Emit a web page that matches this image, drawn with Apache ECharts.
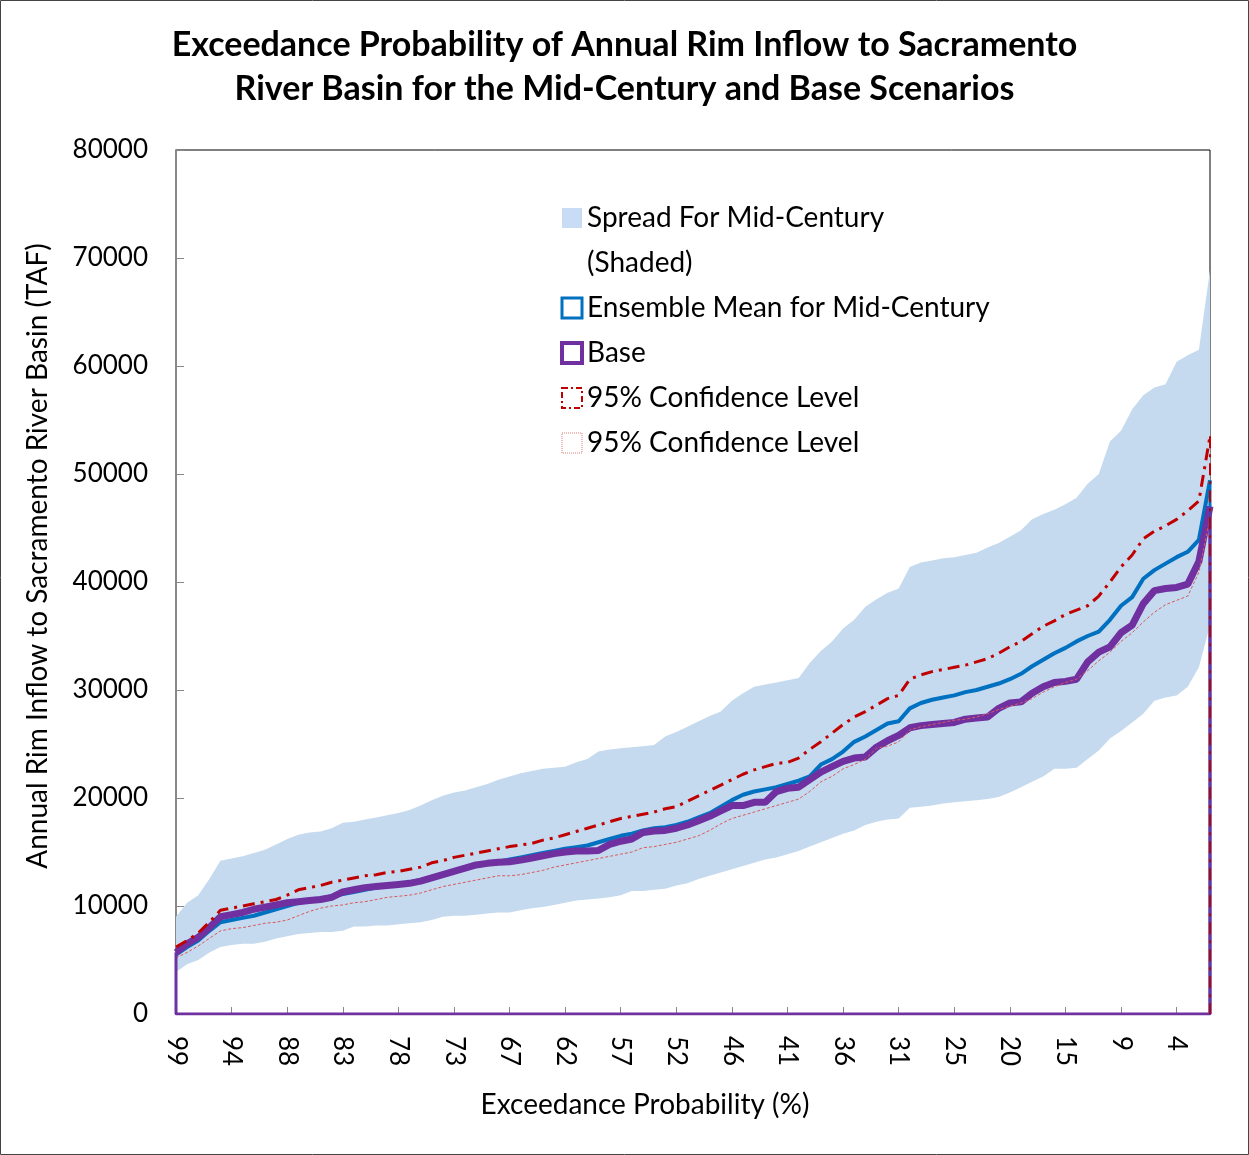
<!DOCTYPE html>
<html>
<head>
<meta charset="utf-8">
<script src="https://cdn.jsdelivr.net/npm/echarts/dist/echarts.min.js"></script>
<style>
  html, body { margin: 0; padding: 0; background: #fff; }
  #chart { width: 1249px; height: 1155px; }
</style>
</head>
<body>
<div id="chart"></div>
<script>
// exceedance probability (%) for each ranked year
const exceedance = [99, 98, 97, 96, 95, 94, 93, 92, 91, 89, 88, 87, 86, 85, 84, 83, 82, 81, 80, 79,
  78, 77, 76, 75, 74, 73, 72, 71, 69, 68, 67, 66, 65, 64, 63, 62, 61, 60, 59, 58,
  57, 56, 55, 54, 53, 52, 51, 49, 48, 47, 46, 45, 44, 43, 42, 41, 40, 39, 38, 37,
  36, 35, 34, 33, 32, 31, 29, 28, 27, 26, 25, 24, 23, 22, 21, 20, 19, 18, 17, 16,
  15, 14, 13, 12, 11, 9, 8, 7, 6, 5, 4, 3, 2, 1];

// spread of mid-century runs (TAF)
const spreadLow = [3900, 4600, 5000, 5700, 6200, 6400, 6500, 6500, 6700, 7000, 7200, 7400, 7500, 7600, 7600, 7700, 8100, 8100, 8200, 8200,
  8300, 8400, 8500, 8700, 9000, 9100, 9100, 9200, 9300, 9400, 9400, 9600, 9800, 9900, 10100, 10300, 10500, 10600, 10700, 10800,
  11000, 11400, 11400, 11500, 11600, 11900, 12100, 12500, 12800, 13100, 13400, 13700, 14000, 14300, 14500, 14800, 15100, 15500, 15900, 16300,
  16700, 17000, 17500, 17800, 18000, 18100, 19100, 19200, 19300, 19500, 19600, 19700, 19800, 19900, 20100, 20500, 21000, 21500, 22000, 22700,
  22700, 22800, 23600, 24400, 25500, 26200, 27000, 27800, 29000, 29300, 29500, 30300, 32100, 36000];
const spreadHigh = [9000, 10300, 11000, 12500, 14200, 14400, 14600, 14900, 15200, 15700, 16200, 16600, 16800, 16900, 17200, 17700, 17800, 18000, 18200, 18400,
  18600, 18900, 19300, 19800, 20200, 20500, 20700, 21000, 21300, 21700, 22000, 22300, 22500, 22700, 22800, 22900, 23300, 23600, 24300, 24500,
  24600, 24700, 24800, 24900, 25700, 26100, 26600, 27100, 27600, 28000, 29000, 29700, 30300, 30500, 30700, 30900, 31100, 32500, 33600, 34500,
  35700, 36500, 37700, 38400, 39000, 39400, 41400, 41800, 42000, 42200, 42300, 42500, 42700, 43200, 43600, 44200, 44800, 45800, 46300, 46700,
  47200, 47800, 49100, 50000, 53000, 54000, 56000, 57300, 58000, 58300, 60400, 61000, 61500, 68900];

// ensemble mean for mid-century
const ensembleMean = [5500, 6200, 6800, 7700, 8500, 8700, 8900, 9100, 9400, 9700, 10000, 10300, 10500, 10700, 10900, 11100, 11300, 11500, 11700, 11900,
  12000, 12200, 12400, 12700, 13000, 13300, 13600, 13800, 13950, 14100, 14300, 14500, 14700, 14900, 15100, 15300, 15450, 15600, 15900, 16200,
  16500, 16700, 17000, 17200, 17300, 17500, 17800, 18200, 18600, 19200, 19800, 20300, 20600, 20800, 21000, 21300, 21600, 22000, 23100, 23600,
  24300, 25200, 25700, 26300, 26900, 27100, 28300, 28800, 29100, 29300, 29500, 29800, 30000, 30300, 30600, 31000, 31500, 32200, 32800, 33400,
  33900, 34500, 35000, 35400, 36500, 37800, 38600, 40300, 41100, 41700, 42300, 42800, 43900, 49400];

// base scenario
const base = [5700, 6500, 7100, 8000, 9000, 9200, 9400, 9700, 9900, 10100, 10300, 10400, 10500, 10600, 10800, 11300, 11500, 11700, 11800, 11900,
  12000, 12100, 12300, 12600, 12900, 13200, 13500, 13800, 13950, 14050, 14100, 14250, 14450, 14650, 14850, 15000, 15100, 15100, 15150, 15700,
  16000, 16200, 16800, 16950, 17000, 17200, 17500, 17900, 18300, 18800, 19300, 19300, 19600, 19600, 20600, 20900, 21000, 21700, 22400, 22900,
  23400, 23700, 23800, 24700, 25300, 25800, 26500, 26700, 26800, 26900, 27000, 27300, 27400, 27500, 28300, 28800, 28900, 29700, 30300, 30700,
  30800, 31000, 32600, 33500, 34000, 35300, 36000, 38000, 39200, 39400, 39500, 39800, 41900, 47000];

// 95% confidence bounds
const ciUpper = [6200, 6800, 7500, 8500, 9600, 9800, 10000, 10200, 10400, 10600, 11000, 11500, 11700, 11900, 12200, 12400, 12600, 12800, 12900, 13100,
  13200, 13400, 13600, 14000, 14200, 14500, 14700, 14900, 15100, 15300, 15500, 15650, 15800, 16100, 16300, 16600, 16900, 17200, 17500, 17800,
  18100, 18300, 18500, 18700, 19000, 19200, 19700, 20200, 20700, 21200, 21700, 22200, 22600, 22900, 23200, 23300, 23700, 24500, 25200, 26000,
  26800, 27500, 28000, 28600, 29200, 29500, 31000, 31400, 31700, 31900, 32100, 32300, 32600, 32900, 33400, 34000, 34500, 35200, 35900, 36400,
  37000, 37400, 37800, 38700, 40000, 41400, 42500, 44000, 44700, 45200, 45800, 46600, 47500, 53500];
const ciLower = [5200, 5700, 6300, 7000, 7700, 7900, 8000, 8200, 8400, 8500, 8700, 9100, 9500, 9800, 10000, 10100, 10300, 10400, 10600, 10800,
  10900, 11000, 11200, 11500, 11800, 12000, 12200, 12400, 12600, 12800, 12800, 12900, 13100, 13300, 13600, 13800, 14000, 14200, 14400, 14600,
  14800, 15000, 15400, 15500, 15700, 15900, 16200, 16500, 17000, 17600, 18100, 18400, 18700, 19000, 19300, 19600, 19900, 20600, 21500, 22000,
  22700, 23100, 23600, 24600, 24800, 25200, 26300, 26600, 26800, 27000, 27200, 27300, 27500, 27800, 28200, 28500, 28800, 29200, 29800, 30300,
  30700, 31000, 31800, 32700, 33500, 34500, 35300, 36300, 37200, 37900, 38300, 38700, 40900, 46000];

const legendText = {
  'Spread For Mid-Century': 'Spread For Mid-Century',
  '(Shaded)': '(Shaded)',
  'Ensemble Mean for Mid-Century': 'Ensemble Mean for Mid-Century',
  'Base': 'Base',
  'ciUpper': '95% Confidence Level',
  'ciLower': '95% Confidence Level'
};

const FONT = 'Lato, "Open Sans", sans-serif';
const last = base.length - 1;

let myChart = echarts.init(document.getElementById('chart'));
myChart.setOption({
  animation: false,
  backgroundColor: '#fff',
  title: {
    text: 'Exceedance Probability of Annual Rim Inflow to Sacramento\nRiver Basin for the Mid-Century and Base Scenarios',
    left: 'center',
    top: 18,
    textStyle: { fontFamily: FONT, fontSize: 34, fontWeight: 'bold', color: '#000', lineHeight: 44 }
  },
  graphic: [{
    type: 'rect',
    shape: { x: 0.5, y: 0.5, width: 1248, height: 1154 },
    style: { fill: null, stroke: '#444', lineWidth: 1 },
    silent: true
  }],
  legend: {
    orient: 'vertical',
    left: 555,
    top: 198,
    itemWidth: 20,
    itemHeight: 20,
    itemGap: 15,
    selectedMode: false,
    textStyle: { fontFamily: FONT, fontSize: 28, color: '#000', lineHeight: 30 },
    formatter: name => legendText[name] || name,
    data: [
      { name: 'Spread For Mid-Century', icon: 'rect', itemStyle: { color: '#C9DCF6', borderWidth: 0 } },
      { name: '(Shaded)', icon: 'rect', itemStyle: { color: 'rgba(0,0,0,0)', borderWidth: 0 } },
      { name: 'Ensemble Mean for Mid-Century', icon: 'rect', itemStyle: { color: '#fff', borderColor: '#0070C0', borderWidth: 3 } },
      { name: 'Base', icon: 'rect', itemStyle: { color: '#fff', borderColor: '#7030A0', borderWidth: 4 } },
      { name: 'ciUpper', icon: 'rect', itemStyle: { color: '#fff', borderColor: '#C00000', borderWidth: 2, borderType: [6, 3, 2, 3] } },
      { name: 'ciLower', icon: 'rect', itemStyle: { color: '#fff', borderColor: '#E07A7A', borderWidth: 1, borderType: 'dotted' } }
    ]
  },
  grid: {
    left: 176, right: 39, top: 150, bottom: 141,
    show: true, borderColor: '#000', borderWidth: 1
  },
  xAxis: {
    type: 'category',
    boundaryGap: false,
    data: exceedance,
    name: 'Exceedance Probability (%)',
    nameLocation: 'middle',
    nameGap: 77,
    nameTextStyle: { fontFamily: FONT, fontSize: 28, color: '#000', padding: [0, 96, 0, 0] },
    axisLine: { lineStyle: { color: '#888', width: 2 } },
    axisTick: { inside: true, length: 7, interval: 4, lineStyle: { color: '#888' } },
    axisLabel: { interval: 4, rotate: -90, margin: 22, fontFamily: FONT, fontSize: 26, color: '#000' },
    splitLine: { show: false }
  },
  yAxis: {
    type: 'value',
    min: 0, max: 80000, interval: 10000,
    name: 'Annual Rim Inflow to Sacramento River Basin (TAF)',
    nameLocation: 'middle',
    nameGap: 124,
    nameTextStyle: { fontFamily: FONT, fontSize: 28, color: '#000', padding: [0, 0, 0, 52] },
    axisLine: { show: true, lineStyle: { color: '#888', width: 2 } },
    axisTick: { show: true, inside: true, length: 8, lineStyle: { color: '#888' } },
    axisLabel: { margin: 28, fontFamily: FONT, fontSize: 26, color: '#000', formatter: v => String(v) },
    splitLine: { show: false }
  },
  series: [
    {
      name: 'bandLow', type: 'line', stack: 'spread', data: spreadLow,
      symbol: 'none', silent: true, lineStyle: { width: 0, opacity: 0 }
    },
    {
      name: 'Spread For Mid-Century', type: 'line', stack: 'spread',
      data: spreadHigh.map((v, i) => v - spreadLow[i]),
      symbol: 'none', silent: true, lineStyle: { width: 0, opacity: 0 },
      itemStyle: { color: '#C5DAEF' },
      areaStyle: { color: '#C5DAEF', opacity: 1 }
    },
    { name: '(Shaded)', type: 'line', data: [] },
    {
      name: 'Ensemble Mean for Mid-Century', type: 'line', data: ensembleMean,
      symbol: 'none', lineStyle: { color: '#0070C0', width: 4 }, itemStyle: { color: '#0070C0' }
    },
    {
      name: 'Base', type: 'line', data: base,
      symbol: 'none', lineStyle: { color: '#7030A0', width: 7 }, itemStyle: { color: '#7030A0' }
    },
    {
      name: 'ciUpper', type: 'line', data: ciUpper,
      symbol: 'none', lineStyle: { color: '#C00000', width: 3, type: [12, 6, 3, 6] }, itemStyle: { color: '#C00000' }
    },
    {
      name: 'ciLower', type: 'line', data: ciLower,
      symbol: 'none', lineStyle: { color: '#D9595C', width: 1, type: [3, 2] }, itemStyle: { color: '#D9595C' }
    },
    // drop lines back to zero at the ends, as in the original plot
    {
      type: 'line', silent: true, symbol: 'none',
      data: [[last, ensembleMean[last]], [last, 0]],
      lineStyle: { color: '#0070C0', width: 3 }
    },
    {
      type: 'line', silent: true, symbol: 'none',
      data: [[last, base[last]], [last, 0], [0, 0], [0, base[0]]],
      lineStyle: { color: '#7030A0', width: 3 }
    },
    {
      type: 'line', silent: true, symbol: 'none',
      data: [[last, ciUpper[last]], [last, 0]],
      lineStyle: { color: '#C00000', width: 2, type: [12, 6, 3, 6] }
    }
  ]
});

window.onresize = function () {
  myChart.resize();
};
</script>
</body>
</html>
